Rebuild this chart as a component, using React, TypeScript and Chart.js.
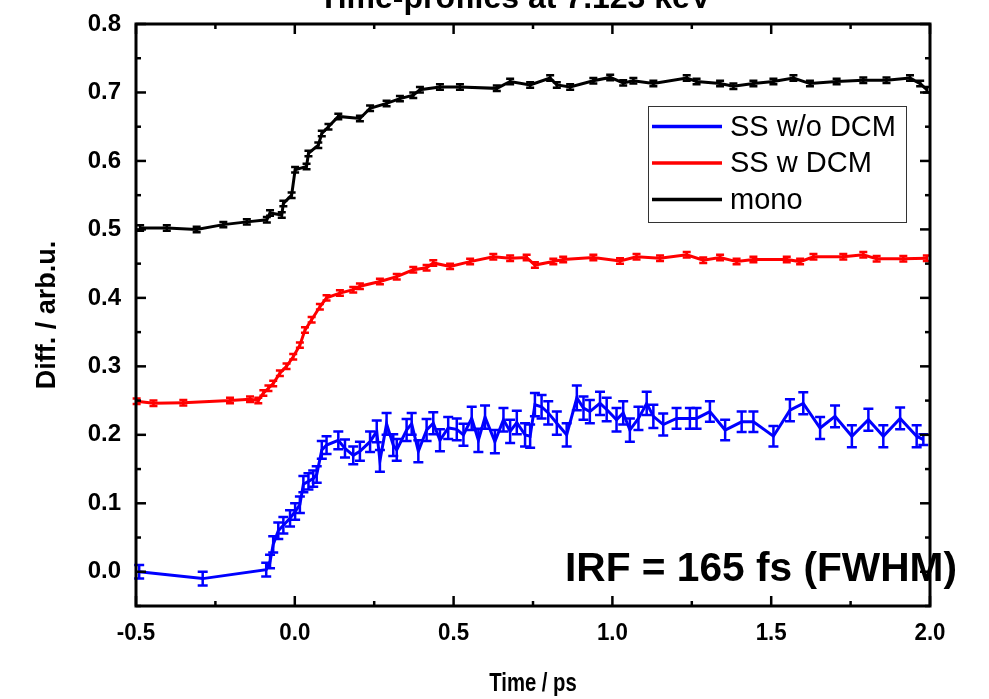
import { useEffect, useRef } from "react";
import { Chart, registerables } from "chart.js";

Chart.register(...registerables);

const FONT = '"Liberation Sans", Arial, sans-serif';

const chartTitle = "Time-profiles at 7.123 keV";
const xAxisTitle = "Time / ps";
const yAxisTitle = "Diff. / arb.u.";
const irfNote = "IRF = 165 fs (FWHM)";

const xRange = [-0.5, 2.0];
const yRange = [-0.05, 0.8];

// SS w/o DCM
const ssNoDcmTime = [
  -0.49, -0.29, -0.09, -0.078, -0.068, -0.052, -0.036, -0.015, 0.001, 0.016, 0.027, 0.043, 0.058, 0.069,
  0.085, 0.1, 0.137, 0.158, 0.184, 0.205, 0.237, 0.258, 0.268, 0.289, 0.31, 0.321, 0.352, 0.368, 0.389,
  0.415, 0.436, 0.457, 0.483, 0.51, 0.531, 0.557, 0.578, 0.599, 0.63, 0.657, 0.678, 0.699, 0.725, 0.741,
  0.756, 0.777, 0.798, 0.825, 0.856, 0.888, 0.909, 0.929, 0.961, 0.982, 1.013, 1.034, 1.055, 1.082,
  1.108, 1.129, 1.16, 1.202, 1.244, 1.265, 1.307, 1.355, 1.407, 1.444, 1.507, 1.559, 1.601, 1.654,
  1.701, 1.754, 1.806, 1.853, 1.906, 1.958, 1.979,
];
const ssNoDcmValue = [
  0.0, -0.01, 0.003, 0.015, 0.04, 0.06, 0.068, 0.078, 0.088, 0.098, 0.128, 0.132, 0.136, 0.142,
  0.178, 0.185, 0.192, 0.18, 0.17, 0.176, 0.19, 0.205, 0.162, 0.216, 0.185, 0.178, 0.207, 0.216, 0.176,
  0.207, 0.217, 0.192, 0.21, 0.208, 0.2, 0.224, 0.192, 0.226, 0.19, 0.222, 0.205, 0.218, 0.2, 0.198,
  0.244, 0.241, 0.232, 0.217, 0.2, 0.254, 0.239, 0.234, 0.246, 0.237, 0.222, 0.232, 0.207, 0.224,
  0.246, 0.227, 0.215, 0.224, 0.224, 0.224, 0.234, 0.207, 0.219, 0.219, 0.198, 0.236, 0.246, 0.21,
  0.227, 0.198, 0.222, 0.198, 0.224, 0.198, 0.193,
];
const ssNoDcmError = [
  0.01, 0.01, 0.01, 0.01, 0.012, 0.012, 0.012, 0.012, 0.012, 0.012, 0.012, 0.012, 0.012, 0.012,
  0.013, 0.013, 0.013, 0.013, 0.013, 0.014, 0.015, 0.016, 0.016, 0.016, 0.016, 0.016, 0.016, 0.016, 0.016,
  0.016, 0.016, 0.016, 0.016, 0.016, 0.016, 0.017, 0.017, 0.017, 0.017, 0.017, 0.017, 0.017, 0.017, 0.017,
  0.017, 0.017, 0.017, 0.017, 0.017, 0.018, 0.017, 0.017, 0.017, 0.017, 0.017, 0.017, 0.017, 0.017,
  0.017, 0.017, 0.016, 0.015, 0.015, 0.015, 0.015, 0.015, 0.015, 0.015, 0.015, 0.016, 0.016, 0.016,
  0.016, 0.016, 0.016, 0.016, 0.016, 0.016, 0.008,
];

// SS w DCM
const ssDcmTime = [
  -0.498, -0.445, -0.351, -0.204, -0.141, -0.115, -0.099, -0.083, -0.068, -0.047, -0.026, -0.005, 0.016,
  0.032, 0.053, 0.079, 0.1, 0.142, 0.184, 0.205, 0.268, 0.321, 0.373, 0.415, 0.436, 0.489, 0.552, 0.625,
  0.678, 0.73, 0.756, 0.814, 0.845, 0.94, 1.024, 1.076, 1.15, 1.234, 1.286, 1.339, 1.391, 1.444, 1.549,
  1.591, 1.633, 1.727, 1.79, 1.832, 1.916, 1.99,
];
const ssDcmValue = [
  0.249, 0.246, 0.247, 0.25, 0.252, 0.25, 0.261, 0.268, 0.275, 0.29, 0.3, 0.314, 0.331,
  0.353, 0.368, 0.387, 0.4, 0.407, 0.412, 0.417, 0.424, 0.431, 0.441, 0.444, 0.451, 0.446, 0.453, 0.46,
  0.458, 0.459, 0.448, 0.453, 0.456, 0.459, 0.454, 0.46, 0.458, 0.463, 0.455, 0.459, 0.453, 0.456, 0.456,
  0.453, 0.46, 0.46, 0.463, 0.457, 0.457, 0.458,
];
const ssDcmError = ssDcmTime.map(() => 0.004);

// mono
const monoTime = [
  -0.487, -0.403, -0.309, -0.225, -0.151, -0.088, -0.078, -0.041, -0.036, -0.01, 0.001, 0.037, 0.043,
  0.074, 0.085, 0.106, 0.137, 0.205, 0.237, 0.289, 0.331, 0.373, 0.394, 0.457, 0.52, 0.636, 0.678, 0.741,
  0.804, 0.825, 0.867, 0.94, 0.993, 1.034, 1.066, 1.129, 1.234, 1.265, 1.339, 1.381, 1.444, 1.507, 1.57,
  1.622, 1.706, 1.79, 1.863, 1.937, 1.969, 1.99,
];
const monoValue = [
  0.502, 0.502, 0.5, 0.507, 0.511, 0.514, 0.524, 0.521, 0.538, 0.55, 0.587, 0.592, 0.611,
  0.623, 0.64, 0.65, 0.665, 0.662, 0.677, 0.684, 0.691, 0.696, 0.704, 0.708, 0.708, 0.706, 0.716, 0.711,
  0.721, 0.711, 0.708, 0.717, 0.722, 0.714, 0.717, 0.713, 0.721, 0.716, 0.713, 0.709, 0.713, 0.716, 0.721,
  0.713, 0.716, 0.718, 0.718, 0.721, 0.713, 0.704,
];
const monoError = monoTime.map(() => 0.004);

const seriesLabels = ["SS w/o DCM", "SS w DCM", "mono"];
const seriesColors = ["#0000ff", "#ff0000", "#000000"];

const toPoints = (t: number[], v: number[]) => t.map((x, i) => ({ x, y: v[i] }));
const fmt = (v: number) => Number(v).toFixed(1);

// Vertical error bars with caps, drawn from each dataset's `errors` array
const errorBarPlugin = {
  id: "errorBars",
  afterDatasetsDraw(chart: any) {
    const { ctx } = chart;
    const xs = chart.scales.x;
    const ys = chart.scales.y;
    chart.data.datasets.forEach((ds: any) => {
      const errs: number[] = ds.errors || [];
      ctx.save();
      ctx.strokeStyle = ds.borderColor;
      ctx.lineWidth = 2.5;
      ds.data.forEach((p: any, i: number) => {
        const e = errs[i];
        if (!e) return;
        const px = xs.getPixelForValue(p.x);
        const y1 = ys.getPixelForValue(p.y - e);
        const y2 = ys.getPixelForValue(p.y + e);
        const cap = ds.capHalf ?? 5;
        ctx.beginPath();
        ctx.moveTo(px, y1);
        ctx.lineTo(px, y2);
        ctx.moveTo(px - cap, y1);
        ctx.lineTo(px + cap, y1);
        ctx.moveTo(px - cap, y2);
        ctx.lineTo(px + cap, y2);
        ctx.stroke();
      });
      ctx.restore();
    });
  },
};

// Box frame with inward major/minor ticks on all four sides
const framePlugin = {
  id: "frame",
  afterDraw(chart: any) {
    const { ctx, chartArea: a } = chart;
    const xs = chart.scales.x;
    const ys = chart.scales.y;
    ctx.save();
    ctx.strokeStyle = "#000";
    ctx.lineWidth = 2.5;
    const tick = (x1: number, y1: number, x2: number, y2: number) => {
      ctx.beginPath();
      ctx.moveTo(x1, y1);
      ctx.lineTo(x2, y2);
      ctx.stroke();
    };
    for (let k = 0; k <= 10; k++) {
      const v = xRange[0] + k * 0.25;
      const px = xs.getPixelForValue(v);
      const len = k % 2 === 0 ? 10 : 5;
      tick(px, a.bottom, px, a.bottom - len);
      tick(px, a.top, px, a.top + len);
    }
    for (let k = 0; k <= 17; k++) {
      const v = yRange[0] + k * 0.05;
      const py = ys.getPixelForValue(v);
      const len = k % 2 === 1 ? 10 : 5;
      tick(a.left, py, a.left + len, py);
      tick(a.right, py, a.right - len, py);
    }
    ctx.lineWidth = 3;
    ctx.strokeRect(a.left, a.top, a.right - a.left, a.bottom - a.top);
    ctx.restore();
  },
};

// Bold text with an optional horizontal squeeze, used for tick labels and the x-axis title
const drawText = (ctx: any, text: string, x: number, y: number, align: string, sx: number) => {
  ctx.save();
  ctx.translate(x, y);
  ctx.scale(sx, 1);
  ctx.textAlign = align;
  ctx.textBaseline = "middle";
  ctx.fillText(text, 0, 0);
  ctx.restore();
};

const axisTextPlugin = {
  id: "axisText",
  afterDraw(chart: any) {
    const { ctx, chartArea: a } = chart;
    const xs = chart.scales.x;
    const ys = chart.scales.y;
    ctx.save();
    ctx.fillStyle = "#000";
    ctx.font = `bold 24px ${FONT}`;
    xs.ticks.forEach((t: any) => {
      drawText(ctx, fmt(t.value), xs.getPixelForValue(t.value), a.bottom + 27, "center", 0.93);
    });
    ys.ticks.forEach((t: any) => {
      drawText(ctx, fmt(t.value), a.left - 15, ys.getPixelForValue(t.value), "right", 1);
    });
    ctx.font = `bold 26px ${FONT}`;
    drawText(ctx, xAxisTitle, (a.left + a.right) / 2, 684, "center", 0.78);
    ctx.restore();
  },
};

// Legend box, chart title and IRF note
const textPlugin = {
  id: "texts",
  afterDraw(chart: any) {
    const { ctx } = chart;
    ctx.save();
    // title (partly above the canvas edge)
    ctx.fillStyle = "#000";
    ctx.font = `bold 32px ${FONT}`;
    ctx.textAlign = "center";
    ctx.textBaseline = "alphabetic";
    ctx.fillText(chartTitle, 515, 8, 488);

    // legend
    const bx = 648, by = 106, bw = 258, bh = 116;
    ctx.fillStyle = "#fff";
    ctx.fillRect(bx, by, bw, bh);
    ctx.strokeStyle = "#333";
    ctx.lineWidth = 1;
    ctx.strokeRect(bx + 0.5, by + 0.5, bw, bh);
    const rows = [126.5, 163, 199.5];
    chart.data.datasets.forEach((ds: any, i: number) => {
      const y = rows[i];
      ctx.strokeStyle = ds.borderColor;
      ctx.lineWidth = 3.5;
      ctx.beginPath();
      ctx.moveTo(652, y);
      ctx.lineTo(722, y);
      ctx.stroke();
      ctx.fillStyle = "#000";
      ctx.font = `29px ${FONT}`;
      ctx.textAlign = "left";
      ctx.textBaseline = "middle";
      ctx.fillText(ds.label, 730, y + 1);
    });

    // IRF annotation
    ctx.fillStyle = "#000";
    ctx.font = `bold 41px ${FONT}`;
    ctx.textAlign = "left";
    ctx.textBaseline = "alphabetic";
    ctx.fillText(irfNote, 565, 581, 392);
    ctx.restore();
  },
};

export default function App() {
  const canvasRef = useRef<HTMLCanvasElement | null>(null);

  useEffect(() => {
    const canvas = canvasRef.current;
    if (!canvas) return;
    const chart = new Chart(canvas, {
      type: "line",
      data: {
        datasets: [
          {
            label: seriesLabels[0],
            data: toPoints(ssNoDcmTime, ssNoDcmValue),
            errors: ssNoDcmError,
            capHalf: 5,
            borderColor: seriesColors[0],
            borderWidth: 3,
            pointRadius: 0,
            tension: 0,
          } as any,
          {
            label: seriesLabels[1],
            data: toPoints(ssDcmTime, ssDcmValue),
            errors: ssDcmError,
            capHalf: 4,
            borderColor: seriesColors[1],
            borderWidth: 3,
            pointRadius: 0,
            tension: 0,
          } as any,
          {
            label: seriesLabels[2],
            data: toPoints(monoTime, monoValue),
            errors: monoError,
            capHalf: 4,
            borderColor: seriesColors[2],
            borderWidth: 3,
            pointRadius: 0,
            tension: 0,
          } as any,
        ],
      },
      options: {
        responsive: false,
        animation: false,
        layout: { padding: { top: 24, right: 59, left: 0, bottom: 0 } },
        plugins: {
          legend: { display: false },
          tooltip: { enabled: false },
        },
        scales: {
          x: {
            type: "linear",
            min: xRange[0],
            max: xRange[1],
            grid: { display: false },
            border: { display: false },
            ticks: { stepSize: 0.5, includeBounds: false, display: false },
            afterFit: (s: any) => {
              s.height = 93;
            },
          },
          y: {
            type: "linear",
            min: yRange[0],
            max: yRange[1],
            grid: { display: false },
            border: { display: false },
            ticks: { stepSize: 0.1, includeBounds: false, display: false },
            title: {
              display: true,
              text: yAxisTitle,
              color: "#000",
              font: { family: FONT, size: 27, weight: "bold" },
              padding: { top: 31, bottom: 0 },
            },
            afterFit: (s: any) => {
              s.width = 136;
            },
          },
        },
      } as any,
      plugins: [errorBarPlugin, framePlugin, axisTextPlugin, textPlugin],
    });
    return () => chart.destroy();
  }, []);

  return (
    <div style={{ position: "fixed", left: 0, top: 0, width: 989, height: 699, background: "#fff" }}>
      <canvas ref={canvasRef} width={989} height={699} />
    </div>
  );
}
